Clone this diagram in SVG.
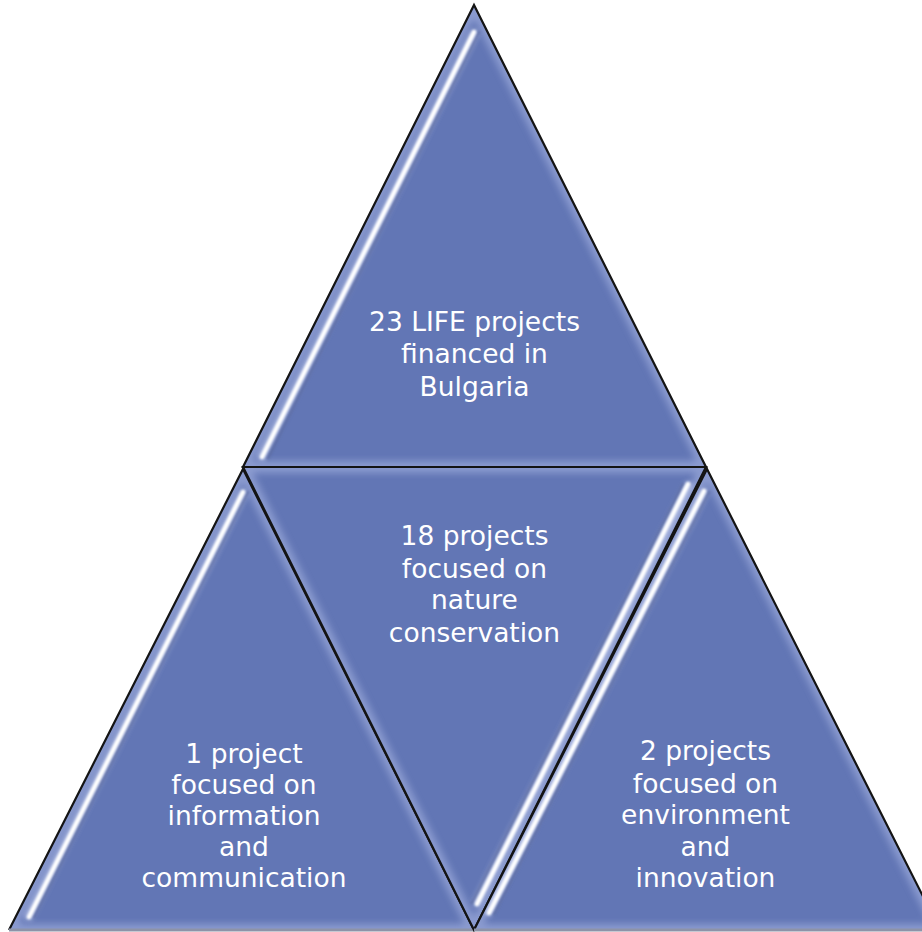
<svg xmlns="http://www.w3.org/2000/svg" width="922" height="932" viewBox="0 0 922 932">
<defs>
<style>
.fill{fill:#6276b5;}
.rim{fill:none;stroke:#b4c0ea;stroke-width:12;opacity:0.5;filter:url(#soft);}
.glow{stroke:#dfe6ff;stroke-width:9;stroke-linecap:round;fill:none;opacity:0.55;filter:url(#wide);}
.hl{stroke:#ffffff;stroke-width:4.5;stroke-linecap:round;fill:none;filter:url(#thin);}
.hls{stroke:#3f4f86;stroke-width:3;stroke-linecap:round;fill:none;opacity:0.4;filter:url(#thin);}
.edge{fill:none;stroke:#141414;stroke-width:2.2;stroke-linejoin:miter;}
.base{fill:none;stroke:#8d93a8;stroke-width:3;}
.lbl{font-family:"DejaVu Sans","Liberation Sans",sans-serif;font-size:26.5px;fill:#ffffff;text-anchor:middle;}
</style>
<filter id="soft" x="-10%" y="-10%" width="120%" height="120%"><feGaussianBlur stdDeviation="3.5"/></filter>
<filter id="thin" x="-20%" y="-5%" width="140%" height="110%"><feGaussianBlur stdDeviation="1.1"/></filter>
<filter id="wide" x="-20%" y="-5%" width="140%" height="110%"><feGaussianBlur stdDeviation="2.5"/></filter>
<clipPath id="cTop"><polygon points="474,5 243,467 706,467"/></clipPath>
<clipPath id="cLeft"><polygon points="243,469 9,930 474,930"/></clipPath>
<clipPath id="cMid"><polygon points="243,467 706,467 474,930"/></clipPath>
<clipPath id="cRight"><polygon points="707,469 474,930 940,930"/></clipPath>
</defs>
<rect width="922" height="932" fill="#ffffff"/>

<g id="node-top">
<polygon class="fill" points="474,5 243,467 706,467"/>
<g clip-path="url(#cTop)">
<polygon class="rim" points="474,5 243,467 706,467"/>
<line class="glow" x1="474" y1="34" x2="262" y2="456"/>
<line class="hls" x1="479" y1="32" x2="268" y2="458"/>
<line class="hl" x1="474" y1="32" x2="262" y2="457"/>
</g>
<polygon class="edge" points="474,5 243,467 706,467"/>
<text class="lbl" x="474.5" y="331">23 LIFE projects</text>
<text class="lbl" x="474.5" y="363">financed in</text>
<text class="lbl" x="474.5" y="396">Bulgaria</text>
</g>

<g id="node-left">
<polygon class="fill" points="243,469 9,930 474,930"/>
<g clip-path="url(#cLeft)">
<polygon class="rim" points="243,469 9,930 474,930"/>
<line class="glow" x1="243" y1="494" x2="29" y2="916"/>
<line class="hls" x1="248" y1="492" x2="34" y2="917"/>
<line class="hl" x1="243" y1="492" x2="29" y2="917"/>
</g>
<polyline class="edge" points="474,930 243,469 9,930"/>
<line class="base" x1="9" y1="930" x2="474" y2="930"/>
<text class="lbl" x="244" y="763">1 project</text>
<text class="lbl" x="244" y="794">focused on</text>
<text class="lbl" x="244" y="825">information</text>
<text class="lbl" x="244" y="856">and</text>
<text class="lbl" x="244" y="887">communication</text>
</g>

<g id="node-middle">
<polygon class="fill" points="243,467 706,467 474,930"/>
<g clip-path="url(#cMid)">
<polygon class="rim" points="243,467 706,467 474,930"/>
<line class="glow" x1="688" y1="486" x2="477" y2="902"/>
<line class="hls" x1="683" y1="484" x2="472" y2="903"/>
<line class="hl" x1="688" y1="484" x2="477" y2="904"/>
</g>
<polygon class="edge" points="243,467 706,467 474,930"/>
<text class="lbl" x="474.5" y="545">18 projects</text>
<text class="lbl" x="474.5" y="578">focused on</text>
<text class="lbl" x="474.5" y="609">nature</text>
<text class="lbl" x="474.5" y="642">conservation</text>
</g>

<g id="node-right">
<polygon class="fill" points="707,469 474,930 940,930"/>
<g clip-path="url(#cRight)">
<polygon class="rim" points="707,469 474,930 940,930"/>
<line class="glow" x1="704" y1="493" x2="489" y2="911"/>
<line class="hls" x1="709" y1="492" x2="494" y2="914"/>
<line class="hl" x1="704" y1="491" x2="489" y2="913"/>
</g>
<polyline class="edge" points="474,930 707,469 940,930"/>
<line class="base" x1="474" y1="930" x2="940" y2="930"/>
<text class="lbl" x="705.5" y="760">2 projects</text>
<text class="lbl" x="705.5" y="793">focused on</text>
<text class="lbl" x="705.5" y="824">environment</text>
<text class="lbl" x="705.5" y="856">and</text>
<text class="lbl" x="705.5" y="887">innovation</text>
</g>

<g id="connectors"></g>
</svg>
